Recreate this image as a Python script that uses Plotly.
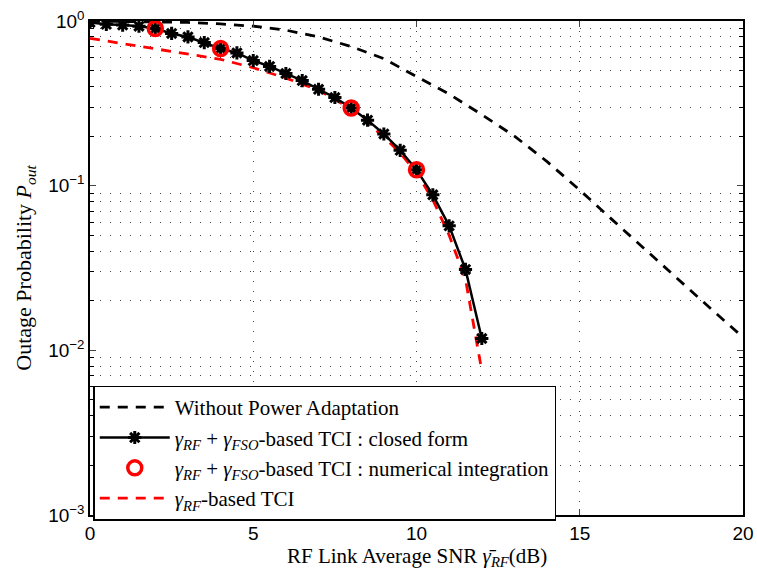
import plotly.graph_objects as go

# ---- data ----
x_nopa = [0, 1, 2, 3, 4, 5, 6, 7, 8, 9, 10, 11, 12, 13, 14, 15, 16, 17, 18, 19, 20]
y_nopa = [1.0, 0.995, 0.99, 0.98, 0.96, 0.93, 0.88, 0.80, 0.70, 0.59, 0.46, 0.36, 0.27,
          0.20, 0.14, 0.094, 0.062, 0.041, 0.027, 0.018, 0.012]

x_cf = [0, 0.5, 1, 1.5, 2, 2.5, 3, 3.5, 4, 4.5, 5, 5.5, 6, 6.5, 7, 7.5, 8, 8.5, 9, 9.5,
        10, 10.5, 11, 11.5, 12]
y_cf = [0.98, 0.955, 0.945, 0.93, 0.90, 0.84, 0.80, 0.74, 0.68, 0.64, 0.575, 0.53, 0.48,
        0.435, 0.385, 0.343, 0.296, 0.25, 0.206, 0.164, 0.125, 0.088, 0.057, 0.031, 0.0118]

x_ni = [2, 4, 8, 10]
y_ni = [0.90, 0.68, 0.296, 0.125]

x_rf = [0, 1, 2, 3, 4, 5, 6, 7, 8, 9, 9.5, 10, 10.5, 11, 11.5, 12]
y_rf = [0.785, 0.73, 0.675, 0.625, 0.585, 0.52, 0.45, 0.38, 0.292, 0.198, 0.158, 0.12,
        0.082, 0.05, 0.027, 0.0075]

names = ["Without Power Adaptation",
         "<i>γ<sub>RF</sub></i> + <i>γ<sub>FSO</sub></i>-based TCI : closed form",
         "<i>γ<sub>RF</sub></i> + <i>γ<sub>FSO</sub></i>-based TCI : numerical integration",
         "<i>γ<sub>RF</sub></i>-based TCI"]

x_title = "RF Link Average SNR <i>γ̄<sub>RF</sub></i>(dB)"
y_title = "Outage Probability <i>P<sub>out</sub></i>"

x_ticks = [0, 5, 10, 15, 20]
y_ticks = [1e-3, 1e-2, 1e-1, 1]
y_ticktext = ["10<sup>−3</sup>", "10<sup>−2</sup>", "10<sup>−1</sup>", "10<sup>0</sup>"]

serif = "Liberation Serif, Times New Roman, serif"
sans = "Liberation Sans, Arial, sans-serif"

fig = go.Figure()
fig.add_trace(go.Scatter(x=x_rf, y=y_rf, mode="lines", name=names[3], legendrank=4,
                         line=dict(color="red", width=2.8, dash="10px,8px")))
fig.add_trace(go.Scatter(x=x_nopa, y=y_nopa, mode="lines", name=names[0], legendrank=1,
                         line=dict(color="black", width=2.8, dash="10px,8px")))
fig.add_trace(go.Scatter(x=x_cf, y=y_cf, mode="lines+markers", name=names[1], legendrank=2,
                         line=dict(color="black", width=2.5),
                         marker=dict(symbol="asterisk-open", size=11, color="black",
                                     line=dict(color="black", width=3))))
fig.add_trace(go.Scatter(x=x_ni, y=y_ni, mode="markers", name=names[2], legendrank=3,
                         marker=dict(symbol="circle-open", size=14, color="red",
                                     line=dict(color="red", width=3.5))))

minor_vals = []
for d in [-3, -2, -1]:
    for k in range(2, 10):
        minor_vals.append(k * 10 ** d)

grid_dash = "1px,9px"
fig.update_layout(
    width=757, height=569,
    margin=dict(l=90, r=14, t=21, b=54),
    paper_bgcolor="white", plot_bgcolor="white",
    showlegend=True,
    legend=dict(x=0.005, y=0.262, xanchor="left", yanchor="top",
                bgcolor="white", bordercolor="black", borderwidth=1.5,
                font=dict(family=serif, size=21, color="black"),
                tracegroupgap=0, itemwidth=70),
    xaxis=dict(range=[0, 20], tickvals=x_ticks, ticks="inside", ticklen=6,
               automargin=False,
               tickfont=dict(family=sans, size=19, color="black"),
               showline=True, linecolor="black", linewidth=1.5, mirror="ticks",
               showgrid=True, gridcolor="#444", gridwidth=1, griddash=grid_dash,
               zeroline=False),
    yaxis=dict(type="log", range=[-3, 0], tickvals=y_ticks, ticktext=y_ticktext,
               ticks="inside", ticklen=6, automargin=False,
               tickfont=dict(family=sans, size=19, color="black"),
               showline=True, linecolor="black", linewidth=1.5, mirror="ticks",
               showgrid=False, zeroline=False,
               minor=dict(tickvals=minor_vals, ticks="inside", ticklen=4,
                          tickcolor="black", showgrid=True, gridcolor="#444",
                          gridwidth=1, griddash=grid_dash),
               title=dict(text=y_title,
                          font=dict(family=serif, size=22, color="black"), standoff=10)),
    annotations=[dict(text=x_title, xref="paper", yref="paper", x=0.5, y=0,
                      xanchor="center", yanchor="top", yshift=-27, showarrow=False,
                      font=dict(family=serif, size=21, color="black"))],
)

fig.write_html("out.html")
